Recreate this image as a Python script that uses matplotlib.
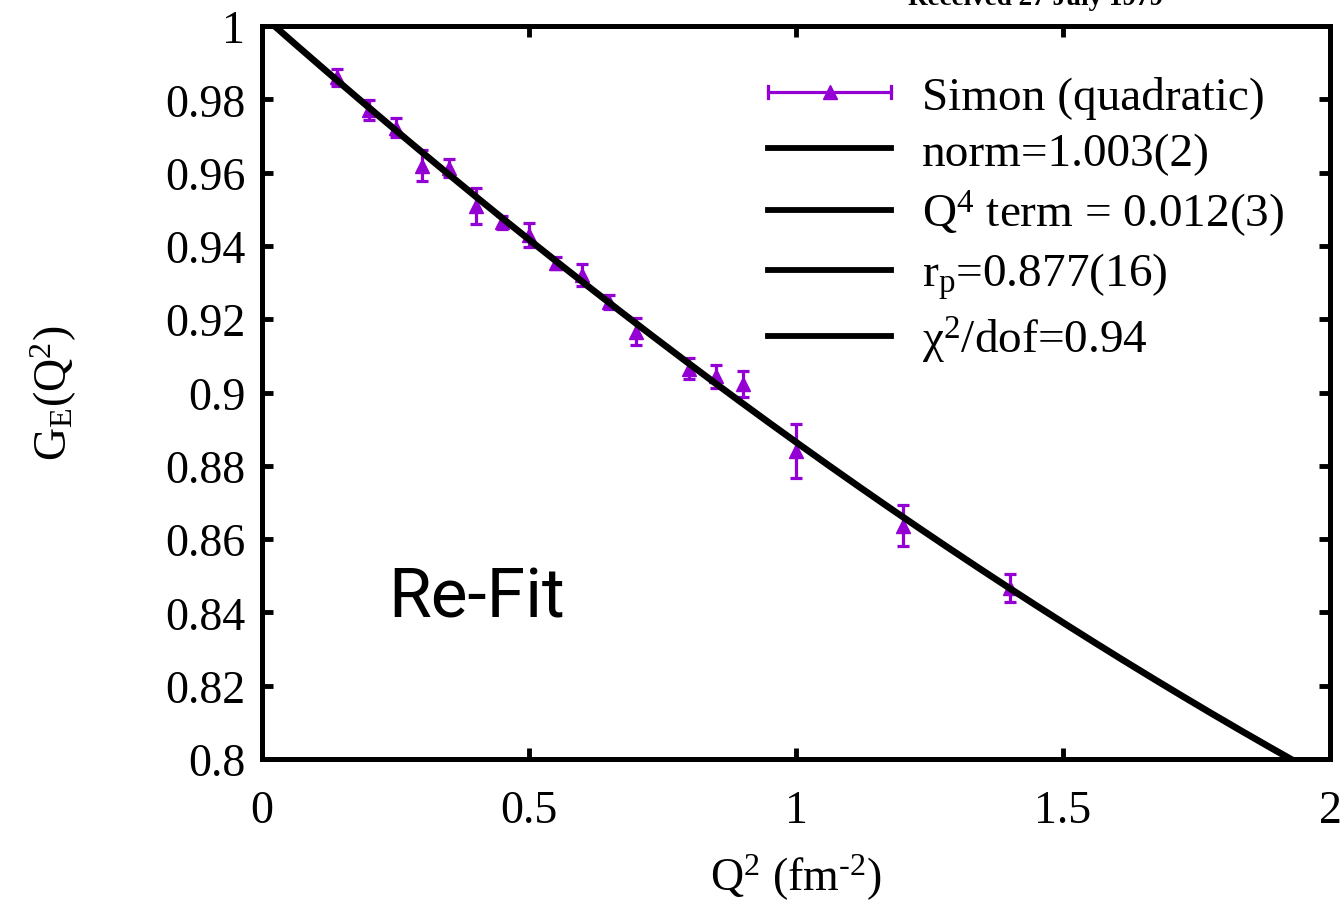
import numpy as np
import matplotlib
matplotlib.use("Agg")
import matplotlib.pyplot as plt
from matplotlib.lines import Line2D
from matplotlib.legend_handler import HandlerBase

plt.rcParams['font.family'] = ['Liberation Serif', 'DejaVu Serif']
plt.rcParams['mathtext.fontset'] = 'custom'
plt.rcParams['mathtext.rm'] = 'Liberation Serif'
plt.rcParams['mathtext.it'] = 'Liberation Serif:italic'

# ---- data ----
q2 = [0.14, 0.20, 0.25, 0.30, 0.35, 0.40, 0.45, 0.50, 0.55, 0.60, 0.65,
      0.70, 0.80, 0.85, 0.90, 1.00, 1.20, 1.40]
ge = [0.986, 0.977, 0.9723, 0.9619, 0.9612, 0.951, 0.9464, 0.9429, 0.9354,
      0.9321, 0.9247, 0.9166, 0.9065, 0.9044, 0.9023, 0.8841, 0.8637, 0.8467]
ge_err = [0.0024, 0.0027, 0.0025, 0.0043, 0.0025, 0.0049, 0.0018, 0.0033, 0.0017,
          0.0030, 0.0019, 0.0036, 0.0028, 0.0032, 0.0036, 0.0073, 0.0055, 0.0038]

# fit parameters (from legend)
fit_norm = 1.003
fit_q4 = 0.012
fit_rp = 0.877

xticks = [0, 0.5, 1, 1.5, 2]
xticklabels = ['0', '0.5', '1', '1.5', '2']
yticks = [0.8, 0.82, 0.84, 0.86, 0.88, 0.9, 0.92, 0.94, 0.96, 0.98, 1.0]
yticklabels = ['0.8', '0.82', '0.84', '0.86', '0.88', '0.9', '0.92', '0.94', '0.96', '0.98', '1']

labels = ['Simon (quadratic)', 'norm=1.003(2)', r'Q$^{4}$ term = 0.012(3)',
          r'r$_{\mathrm{p}}$=0.877(16)', 'χ$^{2}$/dof=0.94']

purple = '#9400D3'

fig = plt.figure(figsize=(13.41, 9.03), dpi=100)
ax = fig.add_axes([262/1341, 1-760/903, (1330-262)/1341, (760-27)/903])

ax.errorbar(q2, ge, yerr=ge_err, fmt='^', color=purple, ms=10.5, elinewidth=2.3,
            capsize=4.5, capthick=2.3, zorder=3)

xf = np.linspace(0, 2, 400)
yf = fit_norm * (1 - fit_rp**2 * xf / 6 + fit_q4 * xf**2)
ax.plot(xf, yf, color='black', lw=4.8, zorder=4, solid_capstyle='butt')

ax.set_xlim(0, 2)
ax.set_ylim(0.8, 1.0)
ax.set_xticks(xticks)
ax.set_xticklabels(xticklabels)
ax.set_yticks(yticks)
ax.set_yticklabels(yticklabels)
ax.tick_params(direction='in', length=8, width=3.5, labelsize=33,
               top=True, right=True)
ax.tick_params(axis='x', pad=22)
ax.tick_params(axis='y', pad=12)
for s in ax.spines.values():
    s.set_linewidth(3.6)

ax.set_xlabel(r'Q$^{2}$ (fm$^{\text{-}2}$)', fontsize=33, labelpad=14)
ax.set_ylabel(r'G$_{\mathrm{E}}$(Q$^{2}$)', fontsize=33, labelpad=62)

ax.text(0.118, 0.194, 'Re-Fit', transform=ax.transAxes, fontsize=50,
        family='Roboto', fontweight='normal', va='baseline', ha='left')

fig.text(1036/1341, 1 - 5/903, 'Received 27 July 1979', fontsize=19.5,
         fontweight='bold', ha='center', va='baseline')


class ErrHandler(HandlerBase):
    def create_artists(self, legend, orig_handle, xdescent, ydescent, width,
                       height, fontsize, trans):
        x0 = -xdescent
        x1 = -xdescent + width
        y = -ydescent + height / 2
        c = height * 0.18
        arts = [
            Line2D([x0, x1], [y, y], color=purple, lw=2.3, transform=trans),
            Line2D([x0, x0], [y - c, y + c], color=purple, lw=2.3, transform=trans),
            Line2D([x1, x1], [y - c, y + c], color=purple, lw=2.3, transform=trans),
            Line2D([(x0 + x1) / 2], [y], marker='^', ms=10, color=purple,
                   lw=0, transform=trans),
        ]
        return arts


class ErrProxy:
    pass


proxy = ErrProxy()
handles = [proxy] + [Line2D([], [], color='black', lw=4.2) for _ in range(4)]
leg = ax.legend(handles, labels, handler_map={ErrProxy: ErrHandler()},
                loc='upper left', bbox_to_anchor=(0.474, 0.932), frameon=False,
                fontsize=34, handlelength=2.6, handletextpad=0.66,
                labelspacing=0.27, borderpad=0, borderaxespad=0)

fig.savefig('out.png', dpi=100)
